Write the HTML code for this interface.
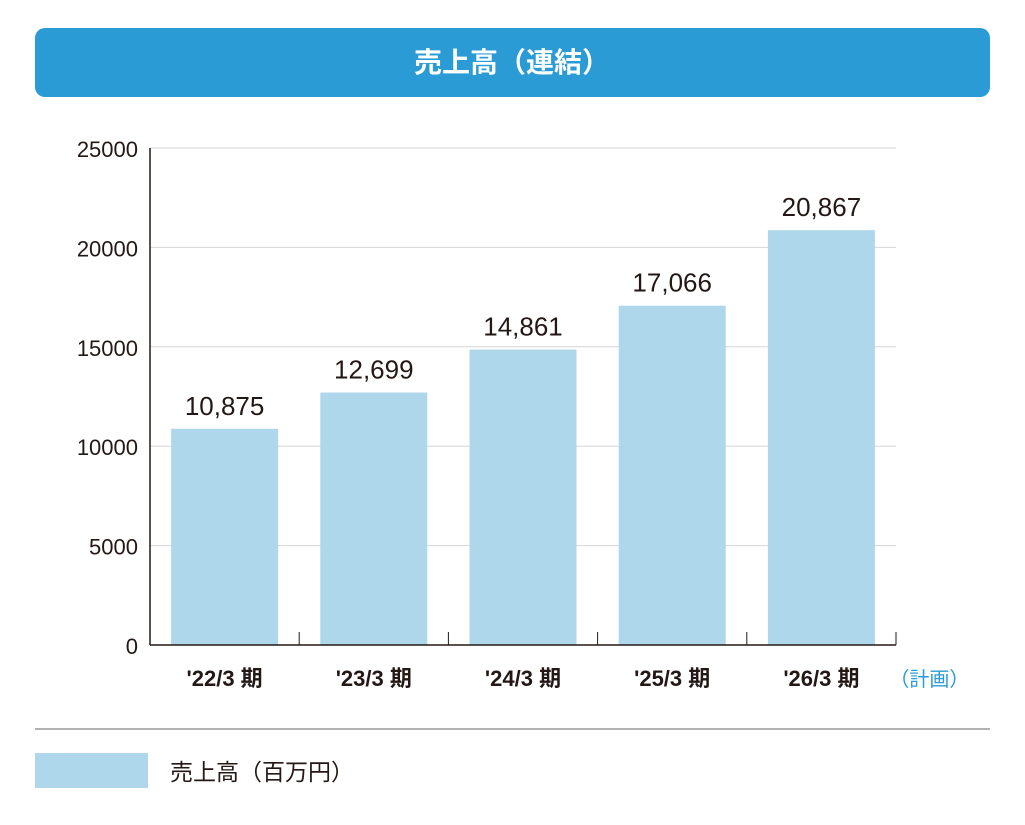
<!DOCTYPE html>
<html><head><meta charset="utf-8"><style>
body{margin:0;width:1025px;height:820px;background:#fff;overflow:hidden;font-family:"Liberation Sans","Noto Sans CJK JP",sans-serif;}
</style></head><body>
<svg width="1025" height="820" xmlns="http://www.w3.org/2000/svg">
<rect x="35" y="28" width="955" height="69" rx="10" fill="#2b9bd5"/>
<text x="512" y="72" text-anchor="middle" fill="#fff" font-size="28" font-weight="bold" font-family="'Liberation Sans','Noto Sans CJK JP',sans-serif">売上高（連結）</text>
<g id="grid"></g><g id="bars"></g><g id="axes"></g>
<line x1="35" y1="729" x2="990" y2="729" stroke="#999" stroke-width="1.5"/>
<rect x="35" y="753" width="113" height="35" fill="#afd7ec"/>
<text x="170" y="780" font-size="23" fill="#231815" font-family="'Liberation Sans','Noto Sans CJK JP',sans-serif">売上高（百万円）</text>
</svg>
<script>
const categories=["'22/3 期","'23/3 期","'24/3 期","'25/3 期","'26/3 期"];
const values=[10875,12699,14861,17066,20867];
const yTicks=[0,5000,10000,15000,20000,25000];
const NS="http://www.w3.org/2000/svg";
const x0=150,x1=896,y0=645,y1=148,yMax=25000;
const bw=(x1-x0)/categories.length;
const yS=v=>y0-(v/yMax)*(y0-y1);
function mk(t,a,p,txt){const e=document.createElementNS(NS,t);for(const k in a)e.setAttribute(k,a[k]);if(txt!=null)e.textContent=txt;p.appendChild(e);return e;}
const grid=document.getElementById('grid'),bars=document.getElementById('bars'),axes=document.getElementById('axes');
yTicks.forEach(v=>{
 if(v>0){const l=mk('line',{x1:x0,x2:x1,y1:yS(v),y2:yS(v),stroke:'#d5d5d5','stroke-width':1},grid);
 
 }
 const t=mk('text',{x:138,y:yS(v)+9,'text-anchor':'end','font-size':22,fill:'#231815','font-family':"'Liberation Sans Narrow','Liberation Sans',sans-serif"},axes,String(v));
 
 
});
values.forEach((v,i)=>{
 const cx=x0+bw*(i+0.5);
 const r=mk('rect',{x:cx-53.5,y:yS(v),width:107,height:y0-yS(v),fill:'#afd7ec'},bars);
 
 
 const t=mk('text',{x:cx,y:yS(v)-14,'text-anchor':'middle','font-size':26,fill:'#231815','font-family':"'Liberation Sans Narrow','Liberation Sans',sans-serif"},bars,v.toLocaleString('en-US'));
 
 
 const c=mk('text',{x:cx,y:686,'text-anchor':'middle','font-size':22,'font-weight':'bold',fill:'#231815','font-family':"'Liberation Sans','Noto Sans CJK JP',sans-serif"},axes,categories[i]);
 
 
 if(i===categories.length-1){
  const p=mk('text',{x:cx+68,y:686,'font-size':20,fill:'#2b9bd5','font-family':"'Liberation Sans','Noto Sans CJK JP',sans-serif"},axes,'（計画）');
  
  
 }
});
for(let i=1;i<=categories.length;i++){
 const x=x0+bw*i;
 const tk=mk('line',{x1:x,x2:x,y1:y0-13,y2:y0,stroke:'#231815','stroke-width':1},axes);
 
 
}
const ya=mk('line',{x1:x0,x2:x0,y1:y1,y2:y0,stroke:'#231815','stroke-width':1.5},axes);


const xa=mk('line',{x1:x0,x2:x1,y1:y0,y2:y0,stroke:'#231815','stroke-width':1.5},axes);


</script>
</body></html>
